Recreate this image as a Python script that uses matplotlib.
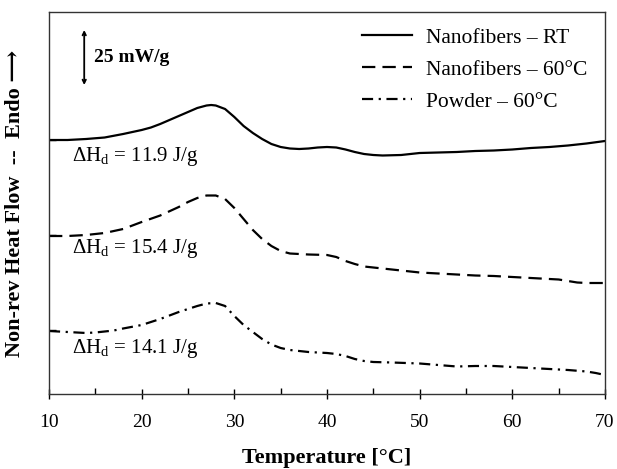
import matplotlib
matplotlib.use("Agg")
import matplotlib.pyplot as plt

plt.rcParams['font.family'] = ['Liberation Serif', 'DejaVu Serif']
plt.rcParams['mathtext.fontset'] = 'custom'
plt.rcParams['mathtext.rm'] = 'Liberation Serif'
plt.rcParams['mathtext.it'] = 'Liberation Serif:italic'
plt.rcParams['mathtext.bf'] = 'Liberation Serif:bold'

# Data (heat-flow signal, arbitrary vertical units, stacked curves)
t_rt = [10, 12, 14, 16, 18, 20, 21, 22, 23, 24, 25, 26, 27, 27.5, 28, 29, 30, 31, 32, 33, 34, 35, 36, 37,
        38, 39, 40, 41, 42, 43, 44, 45, 46, 48, 50, 52, 54, 56, 58, 60, 62, 64, 66, 68, 70]
y_rt = [254, 254, 255, 256.5, 260, 264, 266.5, 270, 274, 278, 282, 286, 288.5, 289, 288.5, 285, 277, 268,
        261, 255, 250, 247, 245.5, 245, 245.5, 246.5, 247, 246.5, 244.5, 242, 240, 239, 238.5, 239, 241,
        241.5, 242, 243, 243.5, 244.5, 246, 247, 248.5, 250.5, 253]

t_60 = [10, 12, 14, 16, 18, 20, 22, 24, 25, 26, 27, 28, 29, 30, 31, 32, 33, 34, 35, 36, 38, 40, 41, 42,
        43, 44, 46, 48, 50, 52, 54, 56, 58, 60, 62, 64, 65, 66, 67, 68, 70]
y_60 = [158, 158, 159, 161, 165, 172, 178.5, 187, 192, 196, 198.5, 198.5, 195, 186, 175, 164, 155, 148,
        143, 140.5, 139.5, 139, 137, 133, 130, 127.5, 125.5, 123.5, 121.5, 120.5, 119.5, 118.5, 118, 117,
        116, 115, 114.5, 113, 111.5, 111, 111]

t_pw = [10, 12, 14, 15, 17, 18, 20, 22, 24, 26, 27, 28, 29, 30, 31, 32, 33, 34, 35, 36, 38, 40, 41, 42,
        43, 44, 45, 47, 50, 52, 54, 56, 58, 60, 62, 64, 66, 68, 69, 70]
y_pw = [63, 62, 61, 61.5, 63.5, 65.5, 69, 75, 82, 88, 90.5, 91, 88, 78, 69, 62, 55, 49.5, 46, 44, 42, 41,
        40, 38, 35, 33, 32, 31.5, 30.5, 29, 27.5, 28, 28, 27, 26, 25, 24, 22.5, 21, 19]

labels = ['Nanofibers – RT', 'Nanofibers – 60°C', 'Powder – 60°C']
enthalpies = ['11.9', '15.4', '14.1']
baselines = [254, 159, 64]

fig = plt.figure(figsize=(6.17, 4.69), dpi=100)
ax = fig.add_axes([49/617, 75/469, 556/617, 382/469])

ax.plot(t_rt, y_rt, color='black', lw=1.6, ls='-', label=labels[0])
ax.plot(t_60, y_60, color='black', lw=1.6, ls=(0, (6, 3.2)), label=labels[1])
ax.plot(t_pw, y_pw, color='black', lw=1.6, ls=(0, (5, 2.5, 1, 2.5)), label=labels[2])

ax.set_xlim(10, 70)
ax.set_ylim(0, 382)
ax.set_xticks([10, 20, 30, 40, 50, 60, 70])
ax.set_xticks([15, 25, 35, 45, 55, 65], minor=True)
ax.set_yticks(baselines)
ax.set_yticklabels([])
ax.tick_params(axis='x', which='major', direction='inout', length=7, width=1, labelsize=14, pad=11)
ax.tick_params(axis='x', which='minor', direction='in', length=4, width=1)
ax.tick_params(axis='y', which='major', direction='in', length=5, width=1)
for s in ax.spines.values():
    s.set_linewidth(1.0)
    s.set_color('#333333')

ax.set_xlabel('Temperature [°C]', fontsize=16, fontweight='bold', labelpad=12)
ax.set_ylabel('Non-rev Heat Flow  --  Endo ⟶', fontsize=16, fontweight='bold', labelpad=14)

# Enthalpy annotations
ann_y = [237, 146, 46]
for e, yy in zip(enthalpies, ann_y):
    ax.text(12.5, yy, r'$\mathrm{\Delta H_d}$ = ' + e + ' J/g', fontsize=15, va='center', ha='left')

# Scale bar
ax.annotate('', xy=(13.8, 364), xytext=(13.8, 309),
            arrowprops=dict(arrowstyle='<->', lw=1.3, color='black', shrinkA=0, shrinkB=0,
                            mutation_scale=6))
ax.text(14.9, 337, '25 mW/g', fontsize=14, fontweight='bold', va='center', ha='left')

ax.legend(loc='upper right', bbox_to_anchor=(1.003, 1.01), frameon=False, fontsize=15.5,
          handlelength=2.3, handletextpad=0.65, labelspacing=0.56)

fig.savefig('out.png', dpi=100)
